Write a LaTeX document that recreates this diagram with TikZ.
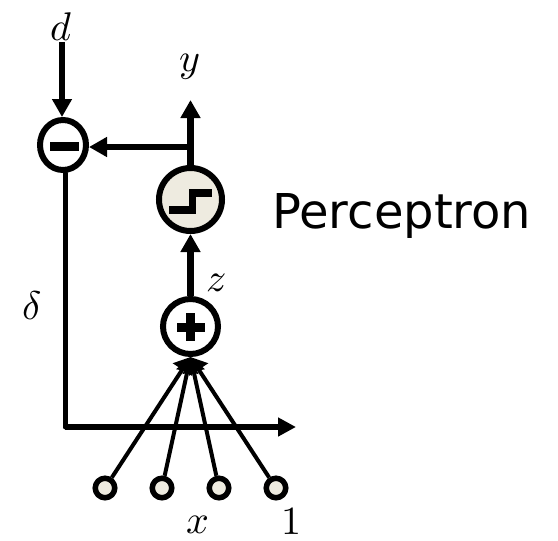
\documentclass[tikz,border=0pt]{standalone}
\usepackage{fontspec}
\setmainfont{DejaVu Sans}
\usepackage{unicode-math}
\setmathfont{Latin Modern Math}
\usetikzlibrary{arrows.meta,shapes.geometric}
\definecolor{beige}{HTML}{EEEBE0}
\tikzset{
  x=1pt,y=-1pt,
  unit/.style={draw=black,line width=6pt,fill=white,circle,inner sep=0pt},
  diffunit/.style={draw=black,line width=6pt,fill=white,ellipse,inner sep=0pt,minimum width=46pt,minimum height=50pt},
  inputunit/.style={draw=black,line width=5.5pt,fill=beige,circle,inner sep=0pt,minimum size=19.5pt},
  thick arrow/.style={line width=6.5pt,-{Triangle[length=18pt,width=19pt]}},
  thin arrow/.style={line width=4pt,-{Triangle[length=15pt,width=22pt]}},
  plain line/.style={line width=5pt},
  thin stem/.style={line width=5.2pt,-{Triangle[length=18pt,width=18pt]}},
  label text/.style={inner sep=0pt,font=\fontsize{40}{40}\selectfont},
  glyph/.style={fill=black,draw=none},
}
\begin{document}
\begin{tikzpicture}
\useasboundingbox (0,0) rectangle (558,541);
% units
\node[diffunit] (minus) at (63,145) {};
\node[unit,fill=beige,minimum size=63pt] (step) at (190.5,199.5) {};
\node[unit,minimum size=55pt] (plus) at (190.5,326.5) {};
\node[inputunit] (in1) at (105,488) {};
\node[inputunit] (in2) at (162,488) {};
\node[inputunit] (in3) at (219,488) {};
\node[inputunit] (in4) at (276,488) {};
% free ends
\coordinate (dstart) at (62,42);
\coordinate (ytip) at (190.5,100);
\coordinate (branch) at (190.5,147);
\coordinate (corner) at (65,427);
\coordinate (hend) at (296,427);
% connectors
\draw[thick arrow] (dstart) -- (dstart |- minus.north);
\draw[thick arrow] (step.north) -- (ytip);
\draw[thick arrow] (branch) -- (minus.east |- branch);
\draw[thick arrow] (plus.north) -- (step.south);
\draw[plain line,line cap=round] (corner |- minus.south) -- (corner);
\draw[thin stem] (corner) -- (hend);
\foreach \i in {1,2,3,4} \draw[thin arrow] (in\i) -- (plus.south);
% glyphs
\fill[glyph] (50,142) rectangle (79,150.5);
\fill[glyph] (186,313) rectangle (195,341);
\fill[glyph] (177,322.5) rectangle (205,331.5);
\draw[line width=7.5pt] (169,210) -- (192.5,210) -- (192.5,193) -- (212,193);
% labels
\node[label text] (ld) at (61,27) {$d$};
\node[label text] (ly) at (190,67) {$y$};
\node[label text] (lz) at (216,283) {$z$};
\node[label text] (ldelta) at (32,305) {$δ$};
\node[label text] (lx) at (198,525) {$x$};
\node[label text] (lone) at (291,521) {$1$};
\node[inner sep=0pt,anchor=base west,font=\fontsize{48}{48}\selectfont] (title) at (272,228) {Perceptron};
\end{tikzpicture}
\end{document}
